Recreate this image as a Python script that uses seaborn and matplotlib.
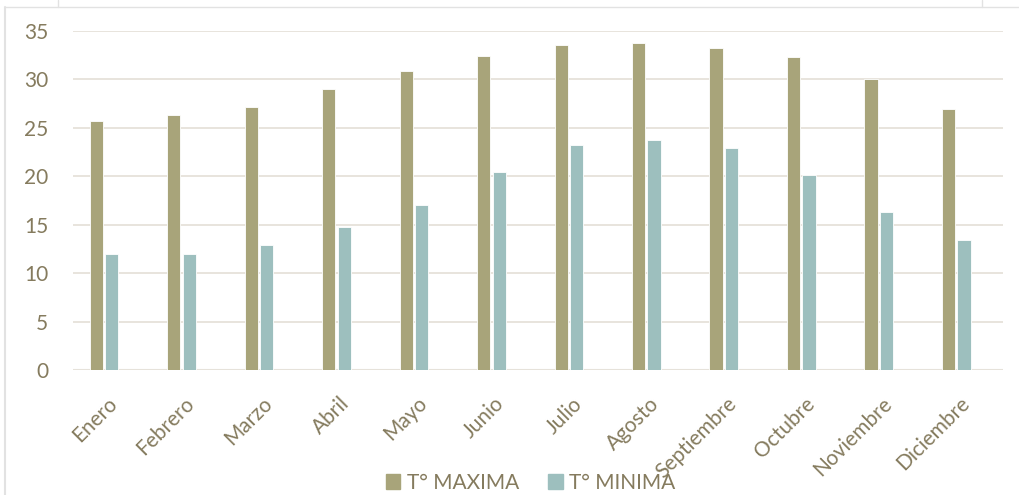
import pandas as pd
import numpy as np
import matplotlib.pyplot as plt
import matplotlib.transforms as mtransforms
import seaborn as sns
from matplotlib.lines import Line2D

meses = ['Enero', 'Febrero', 'Marzo', 'Abril', 'Mayo', 'Junio', 'Julio',
         'Agosto', 'Septiembre', 'Octubre', 'Noviembre', 'Diciembre']
t_max = [25.7, 26.3, 27.2, 29.0, 30.9, 32.4, 33.6, 33.8, 33.3, 32.3, 30.0, 26.9]
t_min = [12.0, 12.0, 12.9, 14.8, 17.0, 20.4, 23.2, 23.7, 22.9, 20.1, 16.3, 13.4]
series = ['T° MAXIMA', 'T° MINIMA']
colores = ['#a8a47a', '#9dbfbe']
texto = '#857b5e'
grid_col = '#e6e2da'

df = pd.DataFrame({'mes': meses * 2,
                   'serie': [series[0]] * 12 + [series[1]] * 12,
                   'valor': t_max + t_min})

sns.set_theme(style='white')
plt.rcParams['font.family'] = ['Lato', 'DejaVu Sans']

fig = plt.figure(figsize=(10.2, 4.95), dpi=100)
ax = fig.add_axes([0.0716, 0.2525, 0.9114, 0.6848])

sns.barplot(data=df, x='mes', y='valor', hue='serie', palette=colores,
            width=0.4, gap=0.15, ax=ax, legend=False, saturation=1,
            edgecolor='white', linewidth=0.6)

# las barras quedan un poco a la izquierda de la rejilla, como en Excel
ax.set_xlim(-0.4, 11.6)
ax.set_ylim(0, 35)
ax.set_yticks(range(0, 36, 5))
ax.yaxis.grid(True, color=grid_col, linewidth=1.3)
ax.set_axisbelow(True)
for s in ax.spines.values():
    s.set_visible(False)
ax.axhline(0, color=grid_col, linewidth=1.5, zorder=0)
ax.set_xlabel('')
ax.set_ylabel('')
ax.tick_params(axis='y', colors=texto, labelsize=15, length=0, pad=18)
ax.tick_params(axis='x', colors=texto, labelsize=15, length=0, pad=22)
offset = mtransforms.ScaledTranslation(10 / 100, 0, fig.dpi_scale_trans)
for lab in ax.get_xticklabels():
    lab.set_rotation(45)
    lab.set_ha('right')
    lab.set_rotation_mode('anchor')
    lab.set_va('center')
    lab.set_transform(lab.get_transform() + offset)

handles = [plt.Rectangle((0, 0), 1, 1, color=c) for c in colores]
fig.legend(handles, series, loc='center', bbox_to_anchor=(0.52, 0.025),
           ncol=2, frameon=False, fontsize=15, labelcolor=texto,
           handlelength=0.7, handleheight=0.7, handletextpad=0.3,
           columnspacing=1.4, borderpad=0)

# marco del grafico
fig.add_artist(Line2D([0.005, 1.0], [0.986, 0.986], color='#e2e2e2', lw=1))
fig.add_artist(Line2D([0.005, 0.005], [0.0, 0.986], color='#e2e2e2', lw=1.5))
fig.add_artist(Line2D([0.057, 0.057], [0.986, 1.0], color='#e2e2e2', lw=1))
fig.add_artist(Line2D([0.963, 0.963], [0.986, 1.0], color='#e2e2e2', lw=1))

fig.savefig('out.png', dpi=100)
